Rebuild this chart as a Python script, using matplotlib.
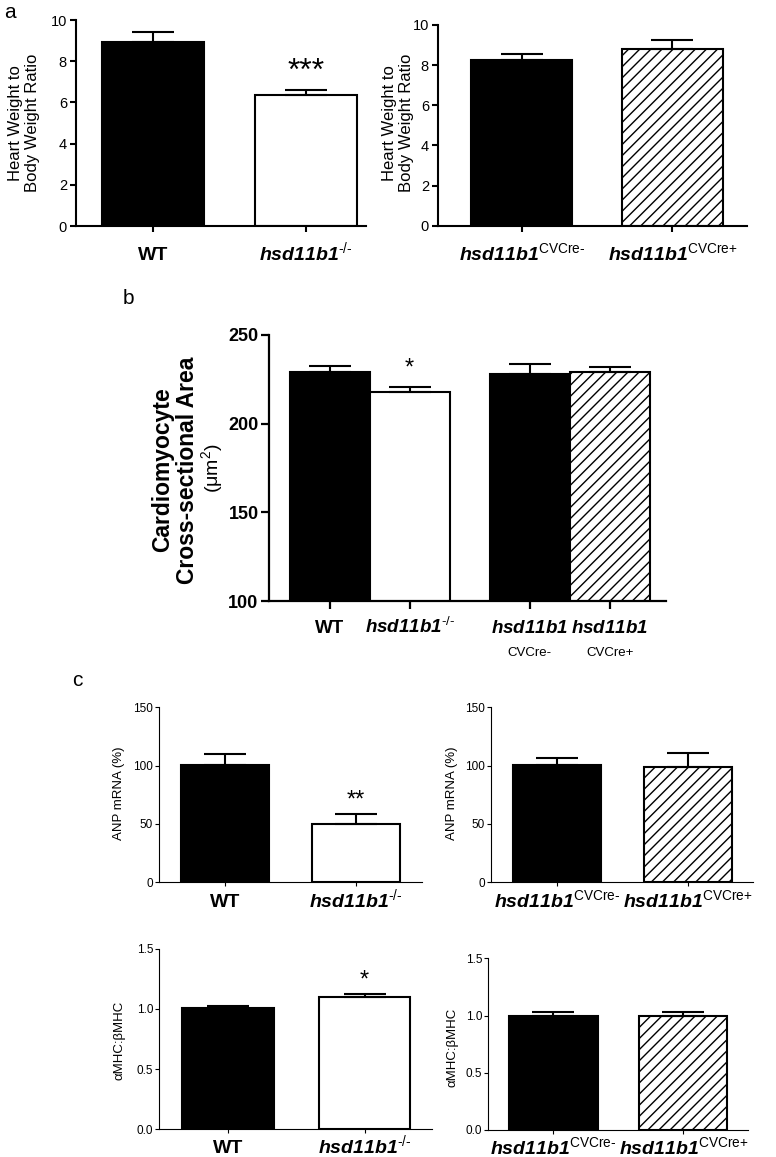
import matplotlib
matplotlib.use('Agg')
import matplotlib.pyplot as plt
import matplotlib.transforms as mtransforms

plt.rcParams['font.family'] = ['Liberation Sans', 'DejaVu Sans']
plt.rcParams['mathtext.fontset'] = 'custom'
plt.rcParams['mathtext.rm'] = 'Liberation Sans'
plt.rcParams['mathtext.it'] = 'Liberation Sans:italic'
plt.rcParams['mathtext.bf'] = 'Liberation Sans:italic:bold'
plt.rcParams['hatch.linewidth'] = 1.0

# data (mean, SEM)
ko_labels = ['WT', r'$\mathbf{hsd11b1}^{\text{-/-}}$']
cv_labels = [r'$\mathbf{hsd11b1}^{\text{CVCre-}}$', r'$\mathbf{hsd11b1}^{\text{CVCre+}}$']
b_labels = ['WT', r'$\mathbf{hsd11b1}^{\text{-/-}}$', r'$\mathbf{hsd11b1}$', r'$\mathbf{hsd11b1}$']
b_sub = ['', '', 'CVCre-', 'CVCre+']

hw_ko_mean = [8.92, 6.36]
hw_ko_sem = [0.51, 0.24]
hw_cv_mean = [8.26, 8.79]
hw_cv_sem = [0.28, 0.46]

area_mean = [229.0, 217.7, 228.0, 229.1]
area_sem = [3.7, 2.8, 5.6, 2.7]

anp_ko_mean = [100.3, 49.7]
anp_ko_sem = [9.7, 8.8]
anp_cv_mean = [100.5, 99.1]
anp_cv_sem = [6.3, 11.7]

mhc_ko_mean = [1.005, 1.10]
mhc_ko_sem = [0.022, 0.02]
mhc_cv_mean = [1.0, 1.0]
mhc_cv_sem = [0.035, 0.035]

ko_style = ['solid', 'open']
cv_style = ['solid', 'hatch']

W, H = 776, 1157
fig = plt.figure(figsize=(W / 100, H / 100), dpi=100)


def px_axes(x0, y0, x1, y1):
    return fig.add_axes([x0 / W, 1 - y1 / H, (x1 - x0) / W, (y1 - y0) / H])


def ftext(x, y, s, **kw):
    fig.text(x / W, 1 - y / H, s, **kw)


def style(ax, lw, ticklen, pad_x, pad_y, xfs, yfs, yweight='normal'):
    for s in ['top', 'right']:
        ax.spines[s].set_visible(False)
    ax.spines['left'].set_linewidth(lw)
    ax.spines['bottom'].set_linewidth(lw)
    ax.tick_params(width=lw, length=ticklen, direction='out')
    ax.tick_params(axis='x', pad=pad_x, labelsize=xfs)
    ax.tick_params(axis='y', pad=pad_y, labelsize=yfs)
    for t in ax.get_yticklabels():
        t.set_fontweight(yweight)
    # labels with superscripts share one baseline
    for t in ax.get_xticklabels():
        t.set_verticalalignment('baseline')


def bars(ax, x, mean, sem, styles, width, lw=1.5, cap=15):
    for xi, m, s, st in zip(x, mean, sem, styles):
        fc = 'black' if st == 'solid' else 'white'
        hatch = '///' if st == 'hatch' else None
        ax.bar(xi, m, width=width, color=fc, edgecolor='black',
               linewidth=lw, hatch=hatch, zorder=2)
        ax.errorbar(xi, m, yerr=[[0], [s]], fmt='none', ecolor='black',
                    elinewidth=lw, capsize=cap, capthick=lw, zorder=3)


def set_xlabels(ax, labels, fs):
    ax.set_xticks(range(len(labels)))
    ax.set_xticklabels(labels, fontsize=fs, fontweight='bold')


# ---- panel a ----
ax = px_axes(76, 20, 366, 226)
bars(ax, [0, 1], hw_ko_mean, hw_ko_sem, ko_style, 0.67)
ax.set_xlim(-0.503, 1.392)
ax.set_ylim(0, 10)
ax.set_yticks([0, 2, 4, 6, 8, 10])
set_xlabels(ax, ko_labels, 14)
style(ax, 1.5, 4.5, 20, 2, 14, 10.5)
ax.text(1, 7.1, '***', ha='center', va='baseline', fontsize=23)

ax = px_axes(438, 25, 747, 225.7)
bars(ax, [0, 1], hw_cv_mean, hw_cv_sem, cv_style, 0.674)
ax.set_xlim(-0.556, 1.496)
ax.set_ylim(0, 10)
ax.set_yticks([0, 2, 4, 6, 8, 10])
set_xlabels(ax, cv_labels, 14)
style(ax, 1.5, 4.5, 20, 2, 14, 10.5)

ftext(24, 123, 'Heart Weight to\nBody Weight Ratio', rotation=90, ha='center',
      va='center', fontsize=12, multialignment='center')
ftext(398, 123, 'Heart Weight to\nBody Weight Ratio', rotation=90, ha='center',
      va='center', fontsize=12, multialignment='center')
ftext(4, 12, 'a', ha='left', va='center', fontsize=15)

# ---- panel b ----
ax = px_axes(269, 335, 666, 601)
xb = [0, 1, 2.5, 3.5]
bars(ax, xb, area_mean, area_sem, ['solid', 'open', 'solid', 'hatch'], 1.0)
ax.set_xlim(-0.756, 4.2)
ax.set_ylim(100, 250)
ax.set_yticks([100, 150, 200, 250])
ax.set_xticks(xb)
ax.set_xticklabels(b_labels, fontsize=13.5, fontweight='bold')
style(ax, 1.6, 5.5, 17.5, 2, 13.5, 13, 'bold')
trans = mtransforms.blended_transform_factory(ax.transData, ax.transAxes)
for xi, s in zip(xb, b_sub):
    if s:
        ax.text(xi, -0.195, s, transform=trans, ha='center', va='center', fontsize=9.5)
ax.text(1, 227.7, '*', ha='center', va='baseline', fontsize=17)

ftext(175, 470, 'Cardiomyocyte\nCross-sectional Area', rotation=90, ha='center',
      va='center', fontsize=16.5, fontweight='bold', multialignment='center',
      linespacing=1.1)
ftext(212, 468, '(\u03bcm$^2$)', rotation=90, ha='center', va='center', fontsize=14)
ftext(123, 298, 'b', ha='left', va='center', fontsize=15)

# ---- panel c ----
ax = px_axes(159.3, 707.3, 421.7, 882.3)
bars(ax, [0, 1], anp_ko_mean, anp_ko_sem, ko_style, 0.67)
ax.set_xlim(-0.503, 1.5)
ax.set_ylim(0, 150)
ax.set_yticks([0, 50, 100, 150])
set_xlabels(ax, ko_labels, 14)
style(ax, 0.8, 3, 14.5, 1.5, 14, 8.5)
ax.text(1, 64.9, '**', ha='center', va='baseline', fontsize=17)

ax = px_axes(491, 707.3, 753.3, 882.3)
bars(ax, [0, 1], anp_cv_mean, anp_cv_sem, cv_style, 0.67)
ax.set_xlim(-0.505, 1.5)
ax.set_ylim(0, 150)
ax.set_yticks([0, 50, 100, 150])
set_xlabels(ax, cv_labels, 14)
style(ax, 0.8, 3, 14.5, 1.5, 14, 8.5)

ftext(119, 793, 'ANP mRNA (%)', rotation=90, ha='center', va='center', fontsize=9.5)
ftext(452, 793, 'ANP mRNA (%)', rotation=90, ha='center', va='center', fontsize=9.5)
ftext(72, 680, 'c', ha='left', va='center', fontsize=15)

ax = px_axes(159.3, 948.7, 431.7, 1129.3)
bars(ax, [0, 1], mhc_ko_mean, mhc_ko_sem, ko_style, 0.67)
ax.set_xlim(-0.5, 1.49)
ax.set_ylim(0, 1.5)
ax.set_yticks([0, 0.5, 1.0, 1.5])
ax.set_yticklabels(['0.0', '0.5', '1.0', '1.5'])
set_xlabels(ax, ko_labels, 14)
style(ax, 0.8, 3, 14, 1.5, 14, 8.5)
ax.text(1, 1.185, '*', ha='center', va='baseline', fontsize=17)

ax = px_axes(488.3, 958.3, 748.3, 1130)
bars(ax, [0, 1], mhc_cv_mean, mhc_cv_sem, cv_style, 0.68)
ax.set_xlim(-0.5, 1.5)
ax.set_ylim(0, 1.5)
ax.set_yticks([0, 0.5, 1.0, 1.5])
ax.set_yticklabels(['0.0', '0.5', '1.0', '1.5'])
set_xlabels(ax, cv_labels, 14)
style(ax, 0.8, 3, 14, 1.5, 14, 8.5)

ftext(120, 1040, '\u03b1MHC:\u03b2MHC', rotation=90, ha='center', va='center', fontsize=9.5)
ftext(452, 1047, '\u03b1MHC:\u03b2MHC', rotation=90, ha='center', va='center', fontsize=9.5)

fig.savefig('out.png', dpi=100)
